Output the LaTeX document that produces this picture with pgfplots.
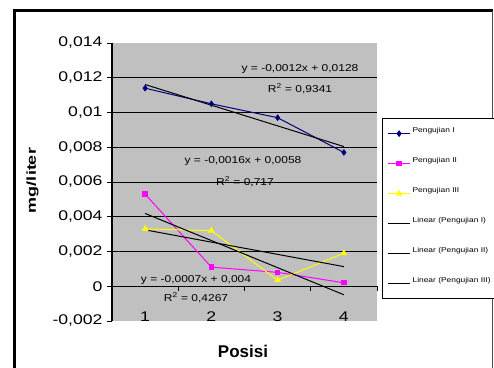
\documentclass[border=0pt]{standalone}
\usepackage{fontspec}
\setmainfont{Liberation Sans}
\usepackage{graphicx}
\usepackage{pgfplots}
\usepackage{pgfplotstable}
\pgfplotsset{compat=1.18}

\definecolor{plotgray}{HTML}{C0C0C0}
\definecolor{seriesnavy}{HTML}{000080}
\definecolor{seriesmagenta}{HTML}{FF00FF}
\definecolor{seriesyellow}{HTML}{FFFF00}

% mg/liter at each position, one table per test run
\pgfplotstableread{
x y
1 0.0114
2 0.0105
3 0.0097
4 0.0077
}\ujiA
\pgfplotstableread{
x y
1 0.0053
2 0.0011
3 0.0008
4 0.0002
}\ujiB
\pgfplotstableread{
x y
1 0.0033
2 0.0032
3 0.00035
4 0.0019
}\ujiC

% legend text: slightly widened and set a little above the key line
\newcommand{\legtext}[1]{\raisebox{3pt}{\scalebox{1.2}[1]{#1}}}

\begin{document}
\begin{tikzpicture}
\useasboundingbox (0pt,0pt) rectangle (494pt,367pt);
\fill[white] (0pt,0pt) rectangle (494pt,367pt);
% chart area frame
\draw[line width=3pt] (14.2pt,-5pt) -- (14.2pt,356.2pt) -- (493pt,356.2pt);
\draw[black!70, line width=1pt] (492.5pt,356.2pt) -- (492.5pt,-5pt);

\begin{axis}[
  at={(112pt,46pt)}, anchor=south west, scale only axis,
  width=265pt, height=278pt,
  xmin=0.5, xmax=4.5, ymin=-0.002, ymax=0.014,
  axis background/.style={fill=plotgray},
  axis line style={draw=none},
  xtick pos=bottom, ytick pos=left,
  tick align=outside, major tick length=5pt,
  scaled y ticks=false,
  ytick={-0.002,0,0.002,0.004,0.006,0.008,0.01,0.012,0.014},
  yticklabels={{-0,002},{0},{0,002},{0,004},{0,006},{0,008},{0,01},{0,012},{0,014}},
  ytick style={black, line width=1pt},
  xtick={1,2,3,4}, xticklabels={1,2,3,4},
  xtick style={draw=none},
  extra y ticks={0,0.002,0.004,0.006,0.008,0.01,0.012},
  extra y tick labels={},
  extra y tick style={grid=major, major tick length=0pt},
  major grid style={black, line width=1pt},
  ticklabel style={font=\fontsize{14}{16}\selectfont, xscale=1.26},
  xticklabel style={yshift=18pt},
  clip=false,
  legend image code/.code={\draw[mark repeat=2,mark phase=2,#1] plot coordinates {(0pt,0pt)(11pt,0pt)(22pt,0pt)};},
  legend style={at={(1.0189,0.730)}, anchor=north west,
    draw=black, line width=1.2pt, fill=white,
    font=\fontsize{7}{8}\selectfont,
    nodes={inner sep=0pt, text height=5pt, text depth=1pt},
    row sep=24pt, column sep=2pt, inner xsep=5pt, inner ysep=12pt},
  legend cell align=left,
]
% value axis line and category tick marks on the zero line
\draw[black, line width=1.2pt] (axis cs:0.5,-0.002) -- (axis cs:0.5,0.014);
\foreach \c in {1.5,2.5,3.5,4.5}{
  \edef\tmp{\noexpand\draw[black, line width=1pt] (axis cs:\c,0) -- ++(0pt,-5pt);}\tmp
}
\addplot[seriesnavy, line width=1pt, mark=diamond*, mark size=2.6pt, mark options={solid}] table[x=x,y=y] {\ujiA};
\addplot[seriesmagenta, line width=1pt, mark=square*, mark size=2.2pt] table[x=x,y=y] {\ujiB};
\addplot[seriesyellow, line width=1pt, mark=triangle*, mark size=3pt] table[x=x,y=y] {\ujiC};
\addplot[black, line width=1pt, no marks] table[x=x, y={create col/linear regression={y=y}}] {\ujiA};
\addplot[black, line width=1pt, no marks] table[x=x, y={create col/linear regression={y=y}}] {\ujiB};
\addplot[black, line width=1pt, no marks] table[x=x, y={create col/linear regression={y=y}}] {\ujiC};
\legend{\legtext{Pengujian I},\legtext{Pengujian II},\legtext{Pengujian III},\legtext{Linear (Pengujian I)},\legtext{Linear (Pengujian II)},\legtext{Linear (Pengujian III)}}
\end{axis}

% trendline equations
\begin{scope}[every node/.style={font=\fontsize{10}{12}\selectfont, xscale=1.2, inner sep=0pt}]
\node at (300pt,298pt) {y = -0,0012x + 0,0128};
\node at (300pt,278pt) {R\textsuperscript{2} = 0,9341};
\node at (243pt,206pt) {y = -0,0016x + 0,0058};
\node at (245pt,185pt) {R\textsuperscript{2} = 0,717};
\node at (196pt,87pt) {y = -0,0007x + 0,004};
\node at (196pt,69pt) {R\textsuperscript{2} = 0,4267};
\end{scope}

% axis titles
\node[font=\fontsize{17}{20}\selectfont\bfseries, anchor=base] at (243pt,10pt) {Posisi};
\node[font=\fontsize{18}{20}\selectfont\bfseries, rotate=90, yscale=0.72] at (32.5pt,186.5pt) {mg/liter};
\end{tikzpicture}
\end{document}
